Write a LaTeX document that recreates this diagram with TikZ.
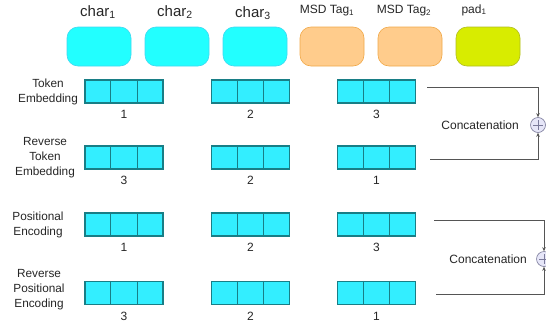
\documentclass[tikz,border=0pt]{standalone}
\usepackage{fontspec}
\setmainfont{Liberation Sans}
\usetikzlibrary{calc,arrows.meta}
\definecolor{tokcyan}{HTML}{22FFFF}
\definecolor{tokcyanline}{HTML}{40D8F0}
\definecolor{tagorange}{HTML}{FFCC8C}
\definecolor{tagorangeline}{HTML}{F0A848}
\definecolor{padgreen}{HTML}{D8EC00}
\definecolor{padgreenline}{HTML}{B0BC20}
\definecolor{cellfill}{HTML}{33EEFF}
\definecolor{cellline}{HTML}{187E86}
\definecolor{concatfill}{HTML}{E6E6F8}
\definecolor{concatline}{HTML}{7A7A9A}
\definecolor{txt}{HTML}{262626}
\definecolor{wire}{HTML}{555555}
\tikzset{
  topbox/.style={draw, line width=0.6pt, rounded corners=11pt,
    minimum width=64pt, minimum height=39pt, inner sep=0pt},
  toplabel/.style={font=\fontsize{15}{17}\selectfont, text=txt, inner sep=0pt},
  taglabel/.style={font=\fontsize{12}{14}\selectfont, text=txt, inner sep=0pt},
  embgroup/.style={draw=cellline, fill=cellfill, line width=1.4pt,
    minimum width=78pt, minimum height=23pt, inner sep=0pt},
  idxlabel/.style={font=\fontsize{12}{14}\selectfont, text=txt, inner sep=0pt},
  rowlabel/.style={font=\fontsize{11.8}{15}\selectfont, text=txt, align=center, inner sep=0pt},
  concat/.style={circle, draw=concatline, fill=concatfill, line width=0.6pt,
    minimum size=15pt, inner sep=0pt,
    path picture={\draw[concatline, line width=0.6pt]
      ($(path picture bounding box.west)+(2.5pt,0)$) -- ($(path picture bounding box.east)+(-2.5pt,0)$)
      ($(path picture bounding box.north)+(0,-2.5pt)$) -- ($(path picture bounding box.south)+(0,2.5pt)$);}},
  concatlabel/.style={font=\fontsize{12}{14}\selectfont, text=txt, inner sep=0pt},
  wireline/.style={draw=wire, line width=0.8pt, -{Stealth[length=4pt,width=3.5pt]}}
}
\begin{document}
\begin{tikzpicture}[x=1pt,y=-1pt]
\useasboundingbox (0,0) rectangle (546,327);

% input tokens
\node[topbox, fill=tokcyan, draw=tokcyanline] (t1) at (99,46.5) {};
\node[topbox, fill=tokcyan, draw=tokcyanline] (t2) at (177,46.5) {};
\node[topbox, fill=tokcyan, draw=tokcyanline] (t3) at (255,46.5) {};
\node[topbox, fill=tagorange, draw=tagorangeline] (t4) at (332,46.5) {};
\node[topbox, fill=tagorange, draw=tagorangeline] (t5) at (410,46.5) {};
\node[topbox, fill=padgreen, draw=padgreenline] (t6) at (488,46.5) {};

\node[toplabel] (l1) at (98,12) {char\textsubscript{1}};
\node[toplabel] (l2) at (175,12) {char\textsubscript{2}};
\node[toplabel] (l3) at (253,13) {char\textsubscript{3}};
\node[taglabel] (l4) at (327,11) {MSD Tag\textsubscript{1}};
\node[taglabel] (l5) at (404,11) {MSD Tag\textsubscript{2}};
\node[taglabel] (l6) at (474,10) {pad\textsubscript{1}};

% row labels
\node[rowlabel] (r1) at (48,92) {Token\\Embedding};
\node[rowlabel] (r2) at (45,158) {Reverse\\Token\\Embedding};
\node[rowlabel] (r3) at (38,225) {Positional\\Encoding};
\node[rowlabel] (r4) at (39,290) {Reverse\\Positional\\Encoding};

% embedding vectors with their position indices
\foreach \r/\y/\a/\b/\c in {1/91.5/1/2/3, 2/157.5/3/2/1, 3/224.5/1/2/3, 4/293/3/2/1}{
  \foreach \g/\x/\n in {1/124/\a, 2/250.5/\b, 3/376.5/\c}{
    \node[embgroup] (e\r-\g) at (\x,\y) {};
    \draw[cellline, line width=1.4pt]
      ($(e\r-\g.north west)!1/3!(e\r-\g.north east)$) -- ($(e\r-\g.south west)!1/3!(e\r-\g.south east)$)
      ($(e\r-\g.north west)!2/3!(e\r-\g.north east)$) -- ($(e\r-\g.south west)!2/3!(e\r-\g.south east)$);
    \node[idxlabel] (n\r-\g) at (\x,\y+23) {\n};
  }
}

% concatenation of token embeddings
\node[concat] (c1) at (538,125) {};
\node[concatlabel, anchor=east] (cl1) at (519,125) {Concatenation};
\coordinate (s1) at ($(e1-3.east)+(11,-4.5)$);
\coordinate (s2) at ($(e2-3.east)+(14,1.5)$);
\draw[wireline] (s1) -| (c1.north);
\draw[wireline] (s2) -| (c1.south);

% concatenation of positional encodings
\node[concat] (c2) at (544,259) {};
\node[concatlabel, anchor=east] (cl2) at (527,259) {Concatenation};
\coordinate (s3) at ($(e3-3.east)+(18,-4.5)$);
\coordinate (s4) at ($(e4-3.east)+(20,1)$);
\draw[wireline] (s3) -| (c2.north);
\draw[wireline] (s4) -| (c2.south);
\end{tikzpicture}
\end{document}
